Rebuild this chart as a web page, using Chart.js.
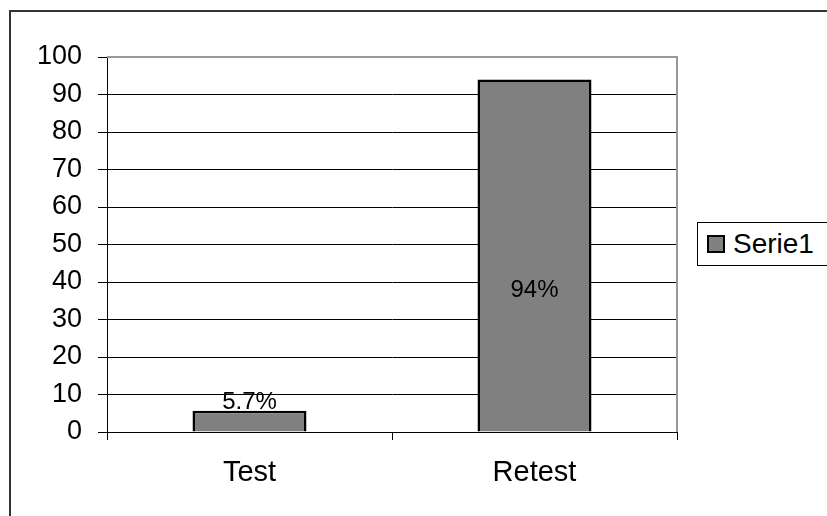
<!DOCTYPE html>
<html>
<head>
<meta charset="utf-8">
<script src="https://cdn.jsdelivr.net/npm/chart.js@4"></script>
<style>
  body { margin: 0; background: #fff; }
  #wrap { position: relative; width: 827px; height: 516px; overflow: hidden; font-family: "Liberation Sans", Arial, sans-serif; }
  #frame { position: absolute; left: 9px; top: 10px; width: 900px; height: 600px; border-left: 2px solid #333; border-top: 2px solid #333; }
  #legend { position: absolute; left: 697px; top: 222px; width: 200px; height: 42px; border: 1px solid #000; background: #fff; }
  #legend .box { position: absolute; left: 9px; top: 12px; width: 14px; height: 14px; border: 2px solid #000; background: #808080; }
  #legend .txt { position: absolute; left: 35px; top: 5px; font-size: 28px; line-height: 32px; color: #000; }
  canvas { position: absolute; left: 0; top: 0; }
</style>
</head>
<body>
<div id="wrap">
  <div id="frame"></div>
  <canvas id="barChart" width="827" height="516"></canvas>
  <div id="legend"><div class="box"></div><div class="txt"></div></div>
</div>
<script>
const categories = ["Test", "Retest"];
const seriesName = "Serie1";
const values = [5.7, 94];
const valueLabels = ["5.7%", "94%"];
const yTicks = [0, 10, 20, 30, 40, 50, 60, 70, 80, 90, 100];

document.querySelector("#legend .txt").textContent = seriesName;

// data labels + gray plot border (top and right)
const extras = {
  id: "extras",
  afterDatasetsDraw(chart) {
    const ctx = chart.ctx;
    const area = chart.chartArea;
    ctx.save();
    ctx.strokeStyle = "#999";
    ctx.lineWidth = 2;
    ctx.beginPath();
    ctx.moveTo(area.left, area.top);
    ctx.lineTo(area.right, area.top);
    ctx.lineTo(area.right, area.bottom);
    ctx.stroke();

    const meta = chart.getDatasetMeta(0);
    ctx.fillStyle = "#000";
    ctx.font = "24px 'Liberation Sans', Arial, sans-serif";
    ctx.textAlign = "center";
    meta.data.forEach((bar, i) => {
      if (i === 0) {
        ctx.textBaseline = "bottom";
        ctx.fillText(valueLabels[i], bar.x, bar.y + 4);
      } else {
        ctx.textBaseline = "middle";
        ctx.fillText(valueLabels[i], bar.x, bar.y + (bar.base - bar.y) * 0.6);
      }
    });
    ctx.restore();
  }
};

const ctx = document.getElementById("barChart");
// eslint-disable-next-line no-unused-vars
const myChart = new Chart(ctx, {
  type: "bar",
  data: {
    labels: categories,
    datasets: [
      {
        label: seriesName,
        data: values,
        backgroundColor: "#808080",
        borderColor: "#000",
        borderWidth: 2.5,
        barPercentage: 0.4,
        categoryPercentage: 1,
      },
    ],
  },
  options: {
    responsive: false,
    animation: false,
    layout: { padding: { left: 0, top: 57, right: 150, bottom: 0 } },
    plugins: {
      legend: { display: false },
      tooltip: { enabled: false },
    },
    scales: {
      x: {
        afterFit: (scale) => { scale.height = 84; },
        grid: {
          offset: true,
          drawOnChartArea: false,
          color: "#000",
          tickLength: 8,
        },
        border: { color: "#000", width: 1 },
        ticks: {
          color: "#000",
          padding: 16,
          font: { family: "'Liberation Sans', Arial, sans-serif", size: 29 },
        },
      },
      y: {
        min: 0,
        max: 100,
        afterFit: (scale) => { scale.width = 107; },
        afterBuildTicks: (scale) => { scale.ticks = yTicks.map((v) => ({ value: v })); },
        grid: {
          color: "#000",
          lineWidth: 1,
          tickLength: 9,
        },
        border: { color: "#000", width: 1 },
        ticks: {
          color: "#000",
          padding: 16,
          font: { family: "'Liberation Sans', Arial, sans-serif", size: 27 },
        },
      },
    },
  },
  plugins: [extras],
});
</script>
</body>
</html>
